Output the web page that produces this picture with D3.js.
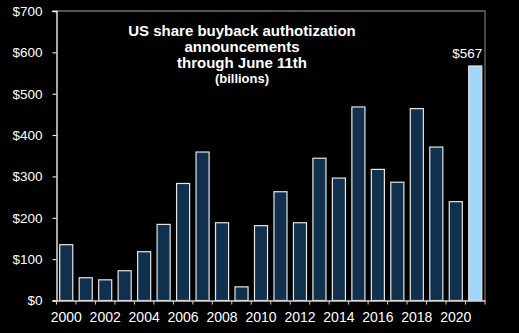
<!DOCTYPE html>
<html><head><meta charset="utf-8">
<script src="https://cdn.jsdelivr.net/npm/d3@7"></script>
<style>
html,body{margin:0;padding:0;background:#000;}
svg{display:block;font-family:"Liberation Sans",Arial,sans-serif;}
</style></head>
<body>
<svg id="c" width="519" height="333"></svg>
<script>
const years = d3.range(2000, 2022);
const values = [135, 55, 50, 72, 118, 184, 283, 359, 188, 33, 181, 263, 188, 344, 296, 468, 317, 286, 464, 371, 239, 567];
const yTicks = [0, 100, 200, 300, 400, 500, 600, 700];
const xLabels = [2000, 2002, 2004, 2006, 2008, 2010, 2012, 2014, 2016, 2018, 2020];
const titleLines = ["US share buyback authotization", "announcements", "through June 11th"];
const subtitle = "(billions)";
const highlightLabel = "$567";

const svg = d3.select("#c");
const L = 56.5, R = 485, T = 11, B = 300.5;
const x = d3.scaleBand().domain(years).range([L, R]).padding(0);
const y = d3.scaleLinear().domain([0, 700]).range([B, T]);

// frame (top and right)
svg.append("path").attr("d", `M${L-4},${T}H${R}V${B}`).attr("fill","none").attr("stroke","#6e6e6e").attr("stroke-width",1.3);

// bars
const bw = x.bandwidth() * 0.67;
svg.selectAll("rect.bar").data(years).enter().append("rect")
  .attr("x", d => x(d) + (x.bandwidth() - bw) / 2)
  .attr("y", (d, i) => y(values[i]))
  .attr("width", bw)
  .attr("height", (d, i) => B - y(values[i]))
  .attr("fill", (d, i) => i === years.length - 1 ? "#a3d6fd" : "#10304e")
  .attr("stroke", "#e6e6e6").attr("stroke-width", 1.2);

// y axis
const yAxis = svg.append("g").attr("transform", `translate(${L},0)`)
  .call(d3.axisLeft(y).tickValues(yTicks).tickSize(4).tickPadding(10).tickFormat(d => "$" + d));
yAxis.select(".domain").attr("stroke", "#ffffff").attr("stroke-width", 1.3);
yAxis.selectAll(".tick line").attr("stroke", "#ffffff");
yAxis.selectAll(".tick text").attr("fill", "#ffffff").attr("font-size", 13.5).attr("font-family", "Liberation Sans, Arial, sans-serif");

// x axis
const xAxis = svg.append("g").attr("transform", `translate(0,${B})`)
  .call(d3.axisBottom(x).tickValues([]).tickSizeOuter(0));
xAxis.select(".domain").attr("stroke", "#d0d0d0").attr("stroke-width", 1.3);
xAxis.selectAll(".bnd").data(years.concat([null])).enter().append("line")
  .attr("x1", (d, i) => L + i * x.step()).attr("x2", (d, i) => L + i * x.step())
  .attr("y1", 0).attr("y2", 4).attr("stroke", "#d0d0d0");
xAxis.selectAll(".xl").data(xLabels).enter().append("text")
  .attr("x", d => x(d) + x.bandwidth() / 2).attr("y", 21)
  .attr("text-anchor", "middle").attr("fill", "#ffffff").attr("font-size", 14)
  .text(d => d);

// title
const tx = 242;
svg.selectAll(".tl").data(titleLines).enter().append("text")
  .attr("x", tx).attr("y", (d, i) => 35.5 + i * 16.3)
  .attr("text-anchor", "middle").attr("fill", "#ffffff")
  .attr("font-weight", "bold").attr("font-size", 15).text(d => d);
svg.append("text").attr("x", tx).attr("y", 83)
  .attr("text-anchor", "middle").attr("fill", "#ffffff")
  .attr("font-weight", "bold").attr("font-size", 13).text(subtitle);

// highlight label
const lastYear = years[years.length - 1];
svg.append("text")
  .attr("x", x(lastYear) + (x.bandwidth() + bw) / 2 + 0.5)
  .attr("y", y(values[values.length - 1]) - 8)
  .attr("text-anchor", "end").attr("fill", "#ffffff").attr("font-size", 13.5)
  .text(highlightLabel);
</script>
</body></html>
